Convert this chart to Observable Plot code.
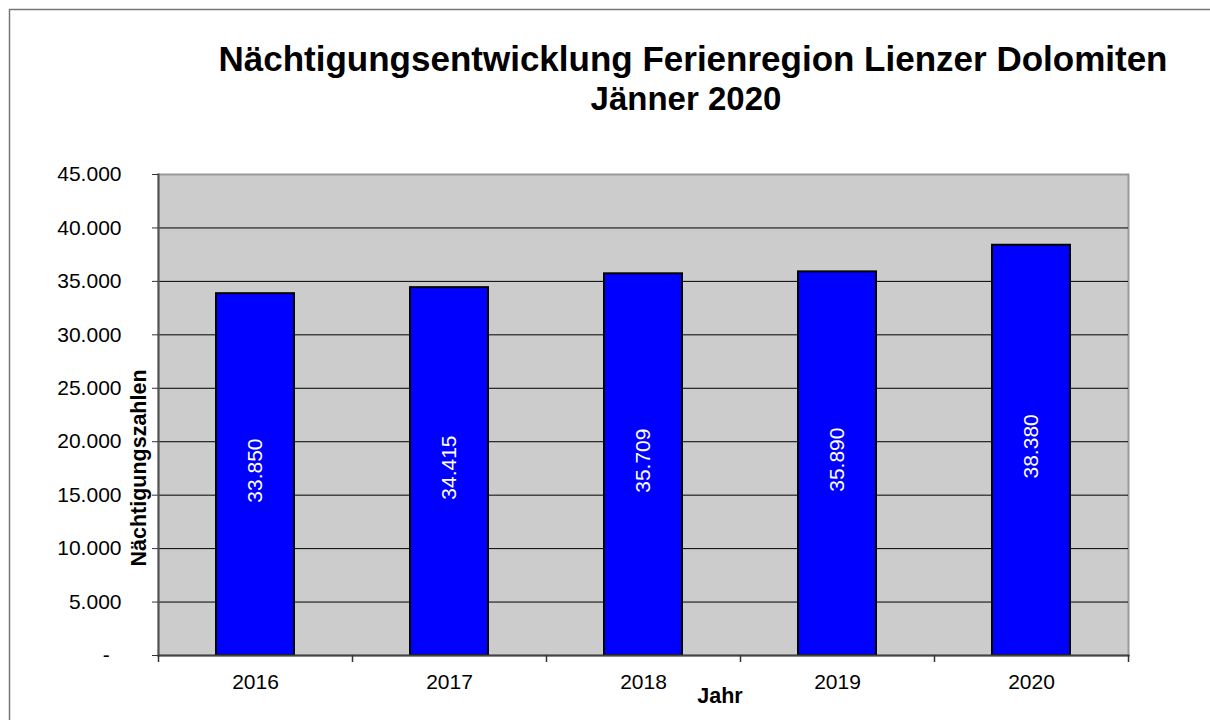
<!DOCTYPE html>
<html>
<head>
<meta charset="utf-8">
<script src="https://cdn.jsdelivr.net/npm/d3@7"></script>
<script src="https://cdn.jsdelivr.net/npm/@observablehq/plot@0.6"></script>
<style>
  html, body { margin: 0; padding: 0; background: #fff; }
  svg { display: block; }
</style>
</head>
<body>
<div id="chart"></div>
<script>
// Data
const years = ["2016", "2017", "2018", "2019", "2020"];
const values = [33850, 34415, 35709, 35890, 38380];
const yTicks = [0, 5000, 10000, 15000, 20000, 25000, 30000, 35000, 40000, 45000];
const titleLines = ["Nächtigungsentwicklung Ferienregion Lienzer Dolomiten", "Jänner 2020"];
const yTitle = "Nächtigungszahlen";
const xTitle = "Jahr";

const data = years.map((year, i) => ({year, value: values[i]}));
const de = d3.formatLocale({decimal: ",", thousands: ".", grouping: [3], currency: ["", " €"]});
const fmt = de.format(",d");
const font = "'Liberation Sans', Arial, Helvetica, sans-serif";

const plot = Plot.plot({
  width: 1210,
  height: 720,
  marginTop: 174,
  marginLeft: 158,
  marginRight: 82,
  marginBottom: 65,
  style: {fontFamily: font, fontSize: "21px", background: "#fff", color: "#000", overflow: "visible"},
  x: {type: "band", domain: years, paddingInner: 0.6, paddingOuter: 0.3, label: null},
  y: {domain: [0, 45000], label: null},
  marks: [
    Plot.frame({fill: "#cccccc", stroke: "#999999", strokeWidth: 2}),
    Plot.ruleY(yTicks.filter(d => d > 0 && d < 45000), {stroke: "#000", strokeWidth: 1}),
    Plot.barY(data, {x: "year", y: "value", fill: "#0000ff", stroke: "#000", strokeWidth: 2}),
    Plot.text(data, {x: "year", y: d => d.value / 2, text: d => fmt(d.value), rotate: -90, dy: -4, fill: "#fff", fontSize: 21}),
    Plot.frame({anchor: "left", stroke: "#555", strokeWidth: 2}),
    Plot.frame({anchor: "bottom", stroke: "#444", strokeWidth: 2}),
    Plot.axisY({ticks: yTicks, tickFormat: d => d === 0 ? "-\u00a0\u00a0" : fmt(d), tickSize: 6, tickPadding: 31, stroke: "#333", label: null, fontSize: 21}),
    Plot.axisX({tickSize: 0, tickPadding: 19, label: null, fontSize: 21})
  ]
});

document.getElementById("chart").appendChild(plot);

const svg = d3.select(plot);
const xs = plot.scale("x");
const ys = plot.scale("y");
const gap = (xs.step - xs.bandwidth) / 2;
const bounds = years.map(y => xs.apply(y) - gap).concat([xs.apply(years[years.length - 1]) + xs.bandwidth + gap]);
const y0 = ys.apply(0);

// boundary ticks on the category axis
svg.append("g")
  .selectAll("line")
  .data(bounds)
  .join("line")
  .attr("x1", d => Math.round(d) + 0.5)
  .attr("x2", d => Math.round(d) + 0.5)
  .attr("y1", y0)
  .attr("y2", y0 + 7)
  .attr("stroke", "#333")
  .attr("stroke-width", 1.5);

// outer chart border
svg.append("rect")
  .attr("x", 9.5).attr("y", 9.5)
  .attr("width", 1220).attr("height", 720)
  .attr("fill", "none")
  .attr("stroke", "#777")
  .attr("stroke-width", 1.5);

// title
const tg = svg.append("g")
  .attr("font-family", font)
  .attr("font-weight", "bold")
  .attr("text-anchor", "middle")
  .attr("fill", "#000");
tg.append("text").attr("x", 693).attr("y", 71).attr("font-size", 35).text(titleLines[0]);
tg.append("text").attr("x", 686).attr("y", 110).attr("font-size", 33).text(titleLines[1]);

// axis titles
svg.append("text")
  .attr("transform", "translate(146,468) rotate(-90)")
  .attr("text-anchor", "middle")
  .attr("font-family", font)
  .attr("font-weight", "bold")
  .attr("font-size", 21.5)
  .text(yTitle);

svg.append("text")
  .attr("x", 720).attr("y", 703)
  .attr("text-anchor", "middle")
  .attr("font-family", font)
  .attr("font-weight", "bold")
  .attr("font-size", 21.5)
  .text(xTitle);
</script>
</body>
</html>
